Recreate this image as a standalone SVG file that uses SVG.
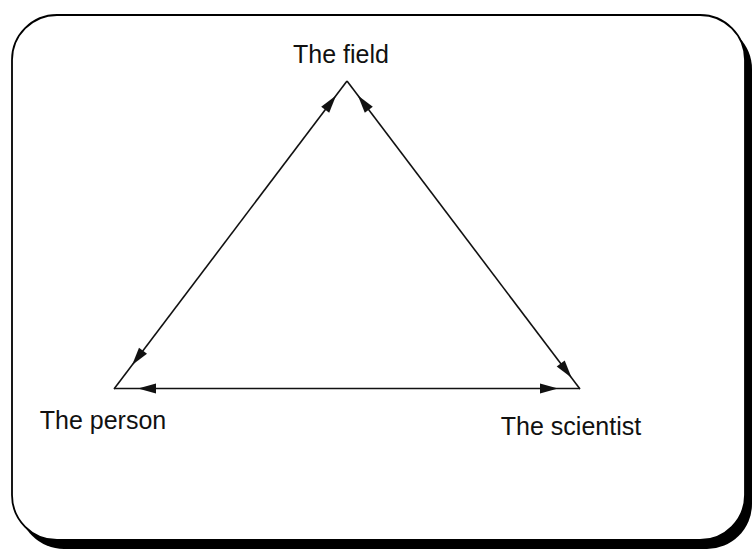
<svg xmlns="http://www.w3.org/2000/svg" width="753" height="550" viewBox="0 0 753 550">
<style>
.lbl{font-family:"Liberation Sans",Arial,sans-serif;font-size:25px;fill:#111;text-anchor:middle}
.ln{stroke:#111;stroke-width:1.6;fill:none}
.ah{fill:#111;stroke:none}
</style>
<rect x="19" y="24" width="733" height="525" rx="45" ry="45" fill="#000"/>
<rect x="12" y="15" width="733" height="525" rx="45" ry="45" fill="#fff" stroke="#000" stroke-width="1.8"/>
<g id="connectors">
<line class="ln" x1="347" y1="81" x2="114" y2="389"/>
<line class="ln" x1="347" y1="81" x2="580" y2="389"/>
<line class="ln" x1="114" y1="388.5" x2="580" y2="388.5"/>
<polygon class="ah" points="336.1,95.4 329.2,112.8 321.2,106.8"/>
<polygon class="ah" points="132.1,365.1 147.0,353.7 139.0,347.7"/>
<polygon class="ah" points="357.9,95.4 372.8,106.8 364.8,112.8"/>
<polygon class="ah" points="571.6,377.8 564.7,360.4 556.7,366.4"/>
<polygon class="ah" points="138,388.5 156,383.5 156,393.5"/>
<polygon class="ah" points="558,388.5 540,383.5 540,393.5"/>
</g>
<g id="field"><text class="lbl" x="341" y="63">The field</text></g>
<g id="person"><text class="lbl" x="103" y="429">The person</text></g>
<g id="scientist"><text class="lbl" x="571" y="435">The scientist</text></g>
</svg>
